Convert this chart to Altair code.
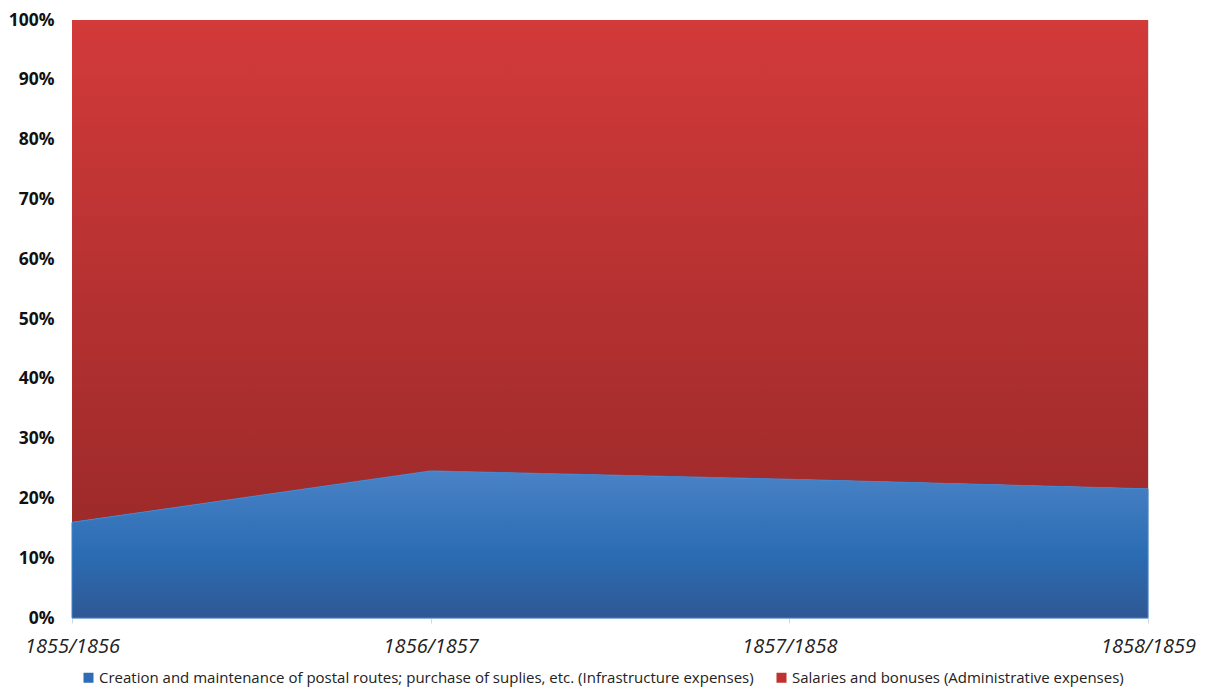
import altair as alt
import pandas as pd

years = ["1855/1856", "1856/1857", "1857/1858", "1858/1859"]
infra = [16.0, 24.6, 23.2, 21.6]
admin = [84.0, 75.4, 76.8, 78.4]

name_infra = "Creation and maintenance of postal routes; purchase of suplies, etc. (Infrastructure expenses)"
name_admin = "Salaries and bonuses (Administrative expenses)"

df = pd.DataFrame({"year": years, "infra": infra, "admin": admin})

xenc = alt.X("year:N", sort=years,
             scale=alt.Scale(type="point", padding=0),
             axis=alt.Axis(title=None, labelAngle=0, labelFont="Open Sans", labelFontStyle="italic",
                           labelFontSize=20, labelColor="#222222", labelPadding=13,
                           domainColor="#d0d8e0", tickColor="#d0d8e0", tickSize=5,
                           labelOverlap=False, labelBound=False, labelFlush=False))
yscale = alt.Scale(domain=[0, 100], nice=False)
yaxis = alt.Axis(title=None, values=list(range(0, 101, 10)), labelExpr="datum.value + '%'",
                 labelFont="Open Sans", labelFontWeight="bold", labelFontSize=17.5,
                 labelColor="#111111", labelPadding=18, domain=False, ticks=False, grid=False)

blue_grad = alt.Gradient(gradient="linear", x1=0, x2=0, y1=0, y2=1,
                         stops=[alt.GradientStop(color="#4a82c6", offset=0),
                                alt.GradientStop(color="#2b6db4", offset=0.55),
                                alt.GradientStop(color="#2f5894", offset=1)])
red_grad = alt.Gradient(gradient="linear", x1=0, x2=0, y1=0, y2=1,
                        stops=[alt.GradientStop(color="#d33a3a", offset=0),
                               alt.GradientStop(color="#b83232", offset=0.5),
                               alt.GradientStop(color="#9e2a2a", offset=1)])

base = alt.Chart(df)

blue = base.mark_area(fill=blue_grad, stroke="#3f86d0", strokeWidth=1).encode(
    x=xenc, y=alt.Y("infra:Q", scale=yscale, axis=yaxis))

red = base.transform_calculate(top="datum.infra + datum.admin").mark_area(fill=red_grad).encode(
    x=xenc, y=alt.Y("infra:Q", scale=yscale, axis=yaxis), y2="top:Q")

legend = base.transform_fold(["infra", "admin"], as_=["series", "v"]).transform_calculate(
    label=f"datum.series == 'infra' ? '{name_infra}' : '{name_admin}'"
).mark_square(size=0, opacity=1, filled=True).encode(
    x=xenc, y=alt.Y("infra:Q", scale=yscale, axis=yaxis),
    color=alt.Color("label:N", sort=[name_infra, name_admin],
                    scale=alt.Scale(domain=[name_infra, name_admin], range=["#2e6cb5", "#c0312f"]),
                    legend=alt.Legend(title=None, orient="none", direction="horizontal",
                                      legendX=9, legendY=650, symbolType="square", symbolSize=100,
                                      symbolOpacity=1, symbolStrokeWidth=0, labelFont="Open Sans",
                                      labelFontSize=15, labelColor="#222222", columnPadding=20,
                                      labelOffset=3, labelLimit=1000)))

chart = alt.layer(red, blue, legend).properties(
    width=1076, height=598,
    autosize=alt.AutoSizeParams(type="none"),
    padding={"left": 64, "top": 12, "right": 51, "bottom": 69},
).configure_view(stroke=None).configure(background="white")

chart.save("out.html", embed_options={"renderer": "svg", "actions": False})
